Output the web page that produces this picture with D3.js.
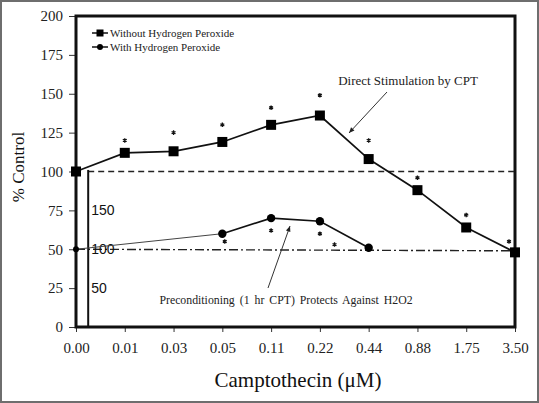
<!DOCTYPE html>
<html><head><meta charset="utf-8">
<script src="https://cdn.jsdelivr.net/npm/d3@7"></script>
<style>
html,body{margin:0;padding:0;background:#fff;}
svg{display:block;}
svg text{font-family:"Liberation Serif","Times New Roman",Times,serif;}
svg text.sans{font-family:"Liberation Sans",Arial,sans-serif;}
</style></head>
<body>
<svg id="c" width="539" height="403"></svg>
<script>
const categories = ["0.00","0.01","0.03","0.05","0.11","0.22","0.44","0.88","1.75","3.50"];
const withoutH2O2 = [100,112,113,119,130,136,108,88,64,48];
const withH2O2 = [50,null,null,60,70,68,51,null,null,null];
const starsWithout = [null,120,125,130,141,149,120,96,72,55];
const starsWith = [null,null,null,55,62,60,53,null,null,null];
const starsWithShift = [0,0,0,0.05,0,0,-0.7,0,0,0];
const yTicks = [0,25,50,75,100,125,150,175,200];
const insetLabels = ["150","100","50"];
const insetValues = [75,50,25];
const legendLabels = ["Without Hydrogen Peroxide","With Hydrogen Peroxide"];

const svg = d3.select("#c");
const W = 539, H = 403;
const m = {l:76, r:515, t:16, b:327};
svg.append("rect").attr("x",1).attr("y",1).attr("width",W-2).attr("height",H-2)
  .attr("fill","#fff").attr("stroke","#6e6e6e").attr("stroke-width",2);

const x = d3.scalePoint().domain(categories).range([m.l, m.r]);
const y = d3.scaleLinear().domain([0,200]).range([m.b, m.t]);
const step = x.step();

// axes
const yAxis = svg.append("g").attr("transform",`translate(${m.l},0)`)
  .call(d3.axisLeft(y).tickValues(yTicks).tickSize(7).tickSizeOuter(0).tickPadding(6));
yAxis.select(".domain").remove();
yAxis.attr("font-family",null);
yAxis.selectAll("text").attr("font-size",15).attr("fill","#222");
yAxis.selectAll("line").attr("stroke","#333");

const xAxis = svg.append("g").attr("transform",`translate(0,${m.b})`)
  .call(d3.axisBottom(x).tickSize(5).tickSizeOuter(0).tickPadding(10));
xAxis.select(".domain").remove();
xAxis.attr("font-family",null);
xAxis.selectAll("text").attr("font-size",15).attr("fill","#222");
xAxis.selectAll("line").attr("stroke","#333");

// plot frame
svg.append("rect").attr("x",m.l).attr("y",m.t).attr("width",m.r-m.l).attr("height",m.b-m.t)
  .attr("fill","none").attr("stroke","#111").attr("stroke-width",3);

// reference lines
const xi = x(categories[0]) + step*0.25;
svg.append("line").attr("x1",xi).attr("x2",m.r).attr("y1",y(100)).attr("y2",y(100))
  .attr("stroke","#222").attr("stroke-width",1.6).attr("stroke-dasharray","6,4");
svg.append("line").attr("x1",m.l).attr("x2",m.r).attr("y1",y(50)).attr("y2",y(49))
  .attr("stroke","#222").attr("stroke-width",1.4).attr("stroke-dasharray","9,3,2,3");

// inset vertical line and labels
svg.append("line").attr("x1",xi).attr("x2",xi).attr("y1",y(101)).attr("y2",m.b)
  .attr("stroke","#111").attr("stroke-width",2);
svg.selectAll("text.inset").data(insetLabels).enter().append("text").attr("class","sans")
  .attr("x",xi+3).attr("y",(d,i)=>y(insetValues[i])).attr("dy","0.36em")
  .attr("font-size",14).attr("fill","#111").text(d=>d);

// series lines
const pts1 = categories.map((c,i)=>({c,v:withoutH2O2[i]}));
const pts2 = categories.map((c,i)=>({c,v:withH2O2[i]})).filter(d=>d.v!==null);
const line = d3.line().x(d=>x(d.c)).y(d=>y(d.v));
svg.append("path").datum(pts2.slice(0,2)).attr("d",line).attr("fill","none").attr("stroke","#444").attr("stroke-width",1);
svg.append("path").datum(pts2.slice(1)).attr("d",line).attr("fill","none").attr("stroke","#111").attr("stroke-width",1.7);
svg.append("path").datum(pts1).attr("d",line).attr("fill","none").attr("stroke","#111").attr("stroke-width",1.7);

svg.selectAll("rect.m1").data(pts1).enter().append("rect")
  .attr("x",d=>x(d.c)-5).attr("y",d=>y(d.v)-5).attr("width",10).attr("height",10).attr("fill","#000");
svg.selectAll("circle.m2").data(pts2).enter().append("circle")
  .attr("cx",d=>x(d.c)).attr("cy",d=>y(d.v)).attr("r",d=>d.c==="0.00"?3:4.2).attr("fill","#000");

// stars
const starData = [];
categories.forEach((c,i)=>{
  if(starsWithout[i]!==null) starData.push({x:x(c)+(i===categories.length-1?-6:0), v:starsWithout[i]});
  if(starsWith[i]!==null) starData.push({x:x(c)+starsWithShift[i]*step, v:starsWith[i]});
});
const star = d3.symbol().type(d3.symbolAsterisk).size(14);
svg.selectAll("path.star").data(starData).enter().append("path")
  .attr("transform",d=>`translate(${d.x},${y(d.v)})`).attr("d",star)
  .attr("fill","none").attr("stroke","#111").attr("stroke-width",1.3);

// legend
const lg = svg.append("g");
legendLabels.forEach((t,i)=>{
  const ly = 33 + i*14;
  lg.append("line").attr("x1",92).attr("x2",108).attr("y1",ly).attr("y2",ly).attr("stroke","#111").attr("stroke-width",1.5);
  if(i===0) lg.append("rect").attr("x",96.5).attr("y",ly-3.5).attr("width",7).attr("height",7).attr("fill","#000");
  else lg.append("circle").attr("cx",100).attr("cy",ly).attr("r",3).attr("fill","#000");
  lg.append("text").attr("x",110).attr("y",ly).attr("dy","0.35em")
    .attr("font-size",11).attr("fill","#222").text(t);
});

// annotations
svg.append("text").attr("x",408).attr("y",80).attr("dy","0.35em").attr("text-anchor","middle")
  .attr("font-size",13).attr("fill","#222").text("Direct Stimulation by CPT");
svg.append("text").attr("x",286).attr("y",300).attr("dy","0.35em").attr("text-anchor","middle")
  .attr("font-size",11.8).attr("fill","#222").attr("word-spacing",2)
  .text("Preconditioning (1 hr CPT) Protects Against H2O2");

function arrow(x1,y1,x2,y2){
  svg.append("line").attr("x1",x1).attr("y1",y1).attr("x2",x2).attr("y2",y2).attr("stroke","#333").attr("stroke-width",1);
  const a = Math.atan2(y2-y1,x2-x1), L=6, w=0.4;
  const p = [[x2,y2],[x2-L*Math.cos(a-w),y2-L*Math.sin(a-w)],[x2-L*Math.cos(a+w),y2-L*Math.sin(a+w)]];
  svg.append("path").attr("d","M"+p.map(q=>q.join(",")).join("L")+"Z").attr("fill","#222");
}
arrow(387,92,349,133);
arrow(268,288,290,226);

// titles
svg.append("text").attr("x",298).attr("y",387).attr("text-anchor","middle")
  .attr("font-size",21).attr("fill","#111").text("Camptothecin (μM)");
svg.append("text").attr("transform","translate(24,167) rotate(-90)").attr("text-anchor","middle")
  .attr("font-size",17).attr("fill","#111").text("% Control");
</script>
</body></html>
